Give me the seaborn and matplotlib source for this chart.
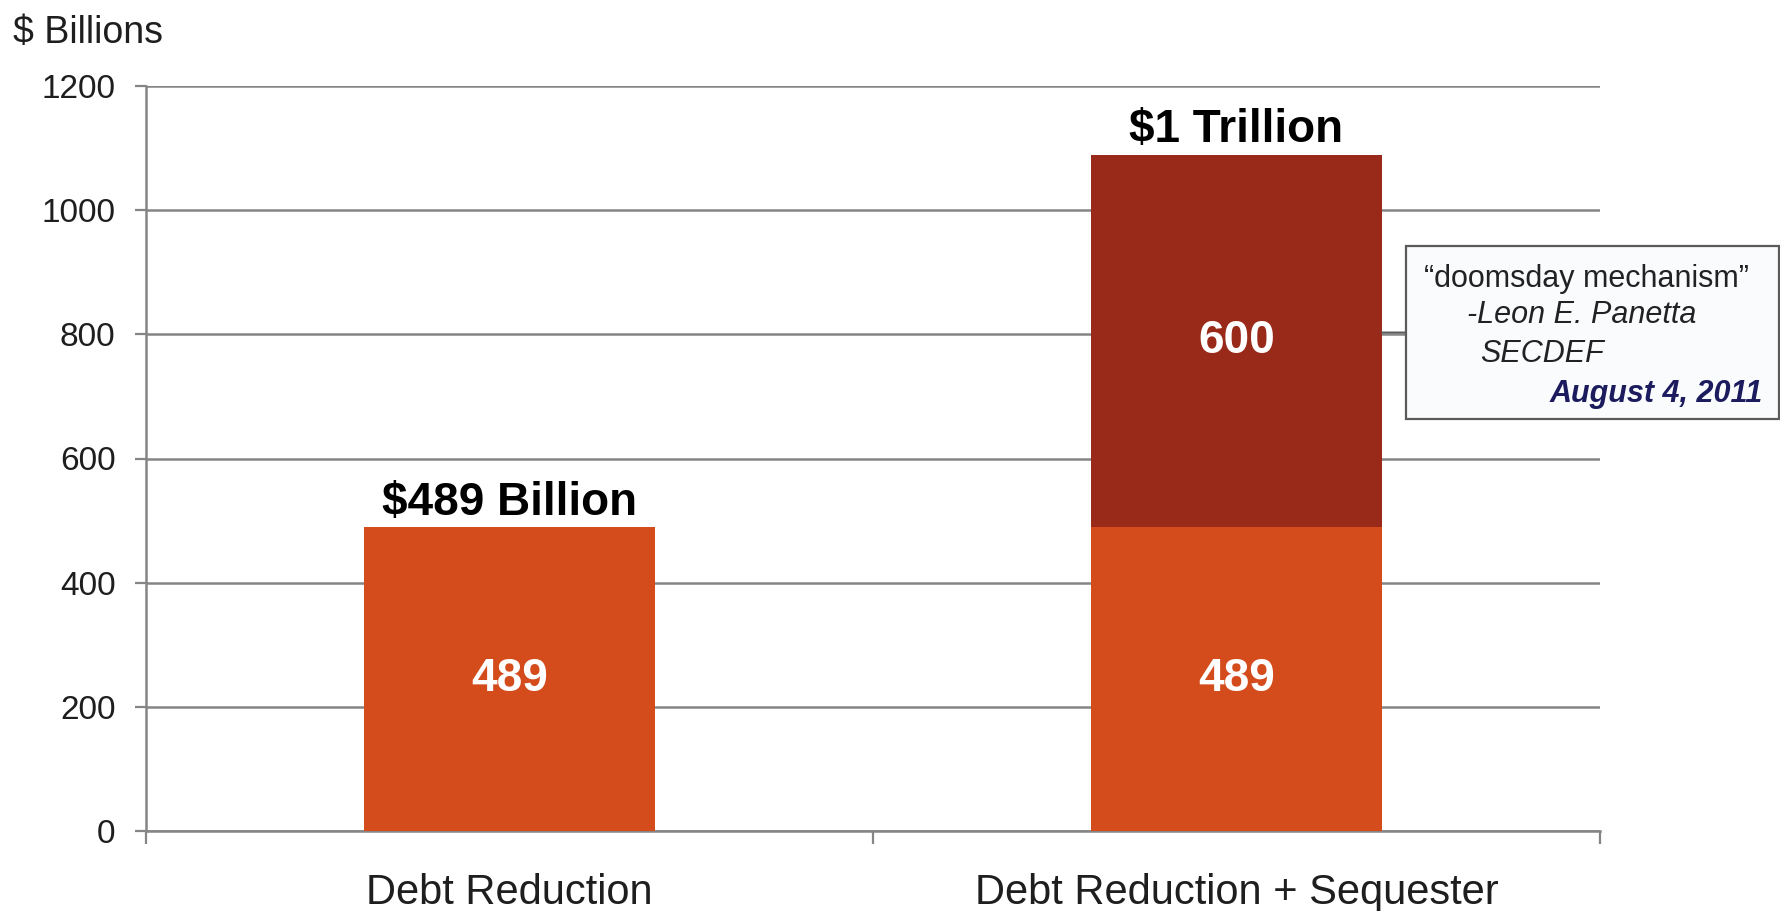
import matplotlib
matplotlib.use("Agg")
import matplotlib.pyplot as plt
import matplotlib.patches as mpatches
import pandas as pd
import seaborn as sns

# data
categories = ["Debt Reduction", "Debt Reduction + Sequester"]
debt_reduction = [489, 489]
sequester = [0, 600]
top_labels = ["$489 Billion", "$1 Trillion"]
y_ticks = [0, 200, 400, 600, 800, 1000, 1200]

quote_lines = ["\u201cdoomsday mechanism\u201d", "-Leon E. Panetta", "SECDEF"]
quote_date = "August 4, 2011"

orange = "#D44B1C"
dark_red = "#992A19"
grid_gray = "#858585"

sns.set_style("white")
plt.rcParams["font.family"] = ["Liberation Sans", "DejaVu Sans"]


def esc(s):
    return s.replace("$", r"\$")


df = pd.DataFrame({
    "category": categories,
    "base": debt_reduction,
    "total": [a + b for a, b in zip(debt_reduction, sequester)],
})

fig = plt.figure(figsize=(17.81, 9.11), dpi=100)
ax = fig.add_axes([146 / 1781, 1 - 831 / 911, (1600 - 146) / 1781, (831 - 86) / 911])

# totals first (dark), then the debt reduction part on top
sns.barplot(data=df, x="category", y="total", color=dark_red, width=0.4,
            saturation=1, linewidth=0, ax=ax, zorder=2)
sns.barplot(data=df, x="category", y="base", color=orange, width=0.4,
            saturation=1, linewidth=0, ax=ax, zorder=3)

ax.set_xlim(-0.5, 1.5)
ax.set_ylim(0, 1200)
ax.set_yticks(y_ticks)
ax.set_xlabel("")
ax.set_ylabel("")

ax.yaxis.grid(True, color=grid_gray, lw=1.8)
ax.set_axisbelow(True)
for side in ["top", "right"]:
    ax.spines[side].set_visible(False)
for side in ["left", "bottom"]:
    ax.spines[side].set_color(grid_gray)
    ax.spines[side].set_linewidth(1.8)

ax.tick_params(axis="y", left=True, length=8, width=1.6, color=grid_gray,
               pad=14, labelsize=24, labelcolor="#1e1e1e")
ax.tick_params(axis="x", which="major", length=0, pad=30, labelsize=30,
               labelcolor="#1e1e1e")
ax.set_xticks([-0.5, 0.5, 1.5], minor=True)
ax.tick_params(axis="x", which="minor", bottom=True, length=9, width=1.6,
               color=grid_gray)

# value labels inside bars
for i, (b, s) in enumerate(zip(debt_reduction, sequester)):
    ax.text(i, b / 2, str(b), ha="center", va="center", color="white",
            fontsize=33, fontweight="bold", zorder=5)
    if s > 0:
        ax.text(i, b + s / 2, str(s), ha="center", va="center", color="white",
                fontsize=33, fontweight="bold", zorder=5)

# totals above bars
for i, lab in enumerate(top_labels):
    ax.annotate(esc(lab), xy=(i, df["total"][i]), xytext=(0, 9),
                textcoords="offset points", ha="center", va="baseline",
                fontsize=33, fontweight="bold", color="black")

fig.text(13 / 1781, 1 - 43 / 911, esc("$ Billions"), fontsize=27,
         color="#1e1e1e", ha="left", va="baseline")

# quote box
bx0, bx1, by0, by1 = 1406, 1779, 246, 419
fig.patches.append(mpatches.Rectangle(
    (bx0 / 1781, 1 - by1 / 911), (bx1 - bx0) / 1781, (by1 - by0) / 911,
    transform=fig.transFigure, facecolor="#f9fbfd", edgecolor="#5a5a5a",
    lw=1.6, zorder=10))

box_mid = 1 - (by0 + by1) / 2 / 911
ax.annotate("", xy=(1.2, box_mid), xycoords=("data", "figure fraction"),
            xytext=(bx0 / 1781, box_mid), textcoords="figure fraction",
            arrowprops=dict(arrowstyle="-", color="#5a5a5a", lw=1.4,
                            shrinkA=0, shrinkB=0), zorder=9)

fig.text(1586 / 1781, 1 - 287 / 911, quote_lines[0], fontsize=22,
         ha="center", va="baseline", color="#222222", zorder=11)
fig.text(1467 / 1781, 1 - 323 / 911, quote_lines[1], fontsize=22,
         style="italic", ha="left", va="baseline", color="#222222", zorder=11)
fig.text(1480 / 1781, 1 - 362 / 911, quote_lines[2], fontsize=22,
         style="italic", ha="left", va="baseline", color="#222222", zorder=11)
fig.text(1763 / 1781, 1 - 402 / 911, quote_date, fontsize=22,
         style="italic", fontweight="bold", ha="right", va="baseline",
         color="#1b1b5e", zorder=11)

fig.savefig("out.png", dpi=100)
